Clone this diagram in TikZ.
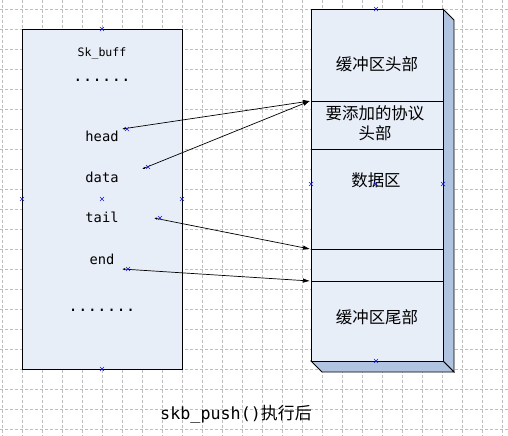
\documentclass[tikz,border=0pt]{standalone}
\usepackage{fontspec}
\setmainfont{Noto Sans CJK SC}
\newfontfamily\cjkf{Noto Sans CJK SC}
\newfontfamily\monof{DejaVu Sans Mono}
\usetikzlibrary{arrows.meta,shapes.misc}
\definecolor{boxfill}{RGB}{232,238,248}
\definecolor{sidefill}{RGB}{176,196,226}
\definecolor{gridc}{RGB}{190,190,190}
\definecolor{markc}{RGB}{20,20,220}
\tikzset{
  gridline/.style={gridc, line width=0.6bp, dash pattern=on 3bp off 2bp},
  boxline/.style={draw=black, line width=0.8bp},
  fieldtxt/.style={font=\monof\fontsize{13.8}{16}\selectfont, anchor=base, inner sep=0},
  dotstxt/.style={font=\monof\fontsize{16}{18}\selectfont, anchor=base, inner sep=0},
  cjktxt/.style={font=\cjkf\fontsize{16.5}{20}\selectfont, inner sep=0, align=center},
  cpx/.style={draw=markc, cross out, line width=0.5bp, minimum size=3.5bp, inner sep=0},
  conn/.style={draw, line width=0.7bp, {Latex[length=3bp,width=2.2bp]}-{Latex[length=7bp,width=4.5bp]}}
}
\begin{document}
\begin{tikzpicture}[x=1bp,y=-1bp]
\useasboundingbox (0,0) rectangle (508,436);
\fill[white] (0,0) rectangle (508,436);
% grid
\foreach \i in {0,...,25} \draw[gridline] (2+20*\i,0) -- (2+20*\i,436);
\foreach \j in {0,...,21} \draw[gridline] (0,9+20*\j) -- (508,9+20*\j);

% left sk_buff box
\node[boxline, fill=boxfill, minimum width=160bp, minimum height=340bp, inner sep=0, anchor=north west] (skb) at (22,29) {};
\node[fieldtxt, font=\monof\fontsize{11.6}{14}\selectfont] (title) at (102,57) {Sk\_buff};
\node[dotstxt] (dots1) at (102,82) {......};
\node[fieldtxt] (head) at (102,142) {head};
\node[fieldtxt] (data) at (102,183) {data};
\node[fieldtxt] (tail) at (102,223) {tail};
\node[fieldtxt] (end) at (102,264) {end};
\node[dotstxt] (dots2) at (102,311) {.......};

% right buffer (3D box)
\filldraw[sidefill, draw=black, line width=0.8bp] (443,9) -- (454,20) -- (454,372) -- (443,361) -- cycle;
\filldraw[sidefill, draw=black, line width=0.8bp] (311,361) -- (322,372) -- (454,372) -- (443,361) -- cycle;
\node[boxline, fill=boxfill, minimum width=132bp, minimum height=352bp, inner sep=0, anchor=north west] (buf) at (311,9) {};
\draw[line width=0.8bp] (311,101) -- (443,101);
\draw[line width=0.8bp] (311,149) -- (443,149);
\draw[line width=0.8bp] (311,249) -- (443,249);
\draw[line width=0.8bp] (311,281) -- (443,281);
\node[cjktxt] (bhead) at (377,64) {缓冲区头部};
\node[cjktxt, font=\cjkf\fontsize{16.5}{20}\selectfont] (proto) at (375,123) {要添加的协议\\头部};
\node[cjktxt] (darea) at (376,180) {数据区};
\node[cjktxt] (btail) at (377,317) {缓冲区尾部};

% connector end points
\coordinate (hs) at (122,129);
\coordinate (ds) at (142,169);
\coordinate (ts) at (154,218);
\coordinate (es) at (122,269);
\coordinate (pt1) at (310,101);
\coordinate (pt2) at (310,249);
\coordinate (pt3) at (310,281);
\draw[conn] (hs) -- (pt1);
\draw[conn] (ds) -- (pt1);
\draw[conn] (ts) -- (pt2);
\draw[conn] (es) -- (pt3);

% connection point markers
\foreach \p [count=\k] in {(102,29),(22,199),(102,199),(182,199),(102,369),(376,9),(311,184),(376,184),(443,184),(376,361),(127,129),(148,167),(160,218),(128,269)}
  \node[cpx] (m\k) at \p {};

% caption
\node[inner sep=0, anchor=base] (cap) at (236,419) {\monof\fontsize{16.8}{20}\selectfont skb\_push()\cjkf\fontsize{17}{20}\selectfont 执行后};
\end{tikzpicture}
\end{document}
